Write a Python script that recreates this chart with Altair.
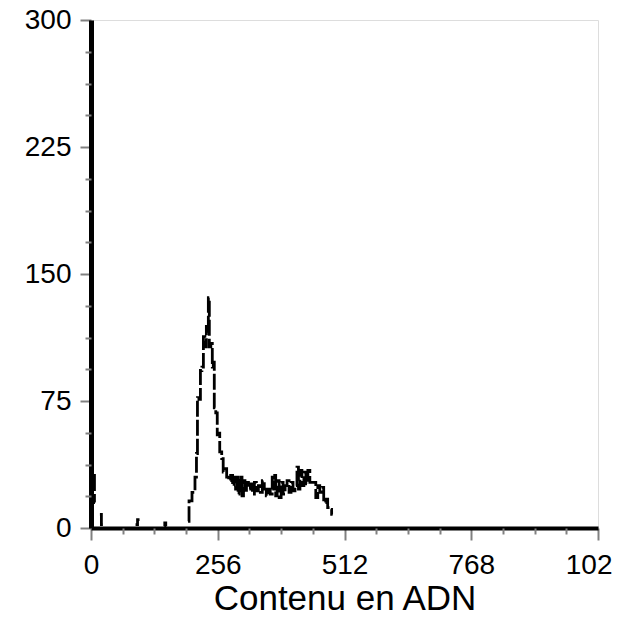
import altair as alt
import pandas as pd

# ---- data (channel, count) ----
low_ch = [6, 8, 18, 24, 90, 98, 148, 150, 152]
low_cnt = [31, 15, 8, 2, 2, 5, 1, 3, 1]
low_seg = ["a", "a", "b", "b", "c", "c", "d", "d", "d"]

main_ch = [196, 200, 208, 212, 214, 216, 220, 222, 226, 228, 232, 234, 236, 238,
           240, 244, 246, 248, 250, 254, 256, 258, 262, 266, 268, 272, 276, 280,
           284, 288, 290, 294, 296, 298, 300, 302, 304, 306, 310, 312, 316, 320,
           324, 328, 332, 336, 340, 344, 348, 352, 356, 360, 364, 368, 370, 372,
           374, 378, 382, 386, 390, 394, 398, 402, 406, 410, 414, 418, 420, 424,
           428, 432, 436, 440, 444, 452, 456, 460, 464, 468, 472, 476, 480, 484, 488]
main_cnt = [4, 16, 21, 30, 44, 77, 76, 93, 95, 113, 107, 119, 115, 136,
            107, 109, 95, 98, 71, 68, 55, 56, 45, 41, 33, 35, 30, 28,
            31, 25, 30, 23, 31, 20, 29, 22, 30, 19, 28, 21, 27, 23,
            26, 20, 27, 22, 25, 21, 28, 23, 19, 23, 20, 30, 23, 31,
            19, 28, 18, 27, 20, 25, 28, 21, 27, 22, 25, 36, 23, 34,
            25, 33, 26, 34, 27, 27, 18, 25, 21, 24, 15, 17, 12, 11, 8]

x_major = [0, 256, 512, 768, 1024]
x_minor = [64, 128, 192, 320, 384, 448, 576, 640, 704, 832, 896, 960]
y_major = [0, 75, 150, 225, 300]
y_minor = [18.75, 37.5, 56.25, 93.75, 112.5, 131.25, 168.75, 187.5, 206.25,
           243.75, 262.5, 281.25]

df = pd.DataFrame({
    "ch": low_ch + main_ch,
    "cnt": low_cnt + main_cnt,
    "seg": low_seg + ["e"] * len(main_ch),
})

FONT = "Liberation Sans"
xs = alt.Scale(domain=[0, 1024], nice=False, zero=False)
ys = alt.Scale(domain=[0, 300], nice=False)

main = alt.Chart(df).mark_line(
    color="black", strokeWidth=2.8, interpolate="step", strokeDash=[16, 3]
).encode(
    x=alt.X("ch:Q", scale=xs, title="Contenu en ADN",
            axis=alt.Axis(values=x_major, orient="bottom", grid=False, format="d",
                          labelExpr="datum.value == 1024 ? '102' : datum.label",
                          labelAlign={"condition": {"test": "datum.value == 1024",
                                                    "value": "right"},
                                      "value": "center"},
                          labelOffset={"condition": {"test": "datum.value == 1024",
                                                     "value": 14},
                                       "value": 0},
                          domainColor="black", domainWidth=4,
                          tickColor="#808080", tickWidth=2, tickSize=12,
                          labelFont=FONT, labelFontSize=28, labelColor="black",
                          labelPadding=11, labelFlush=False, labelOverlap=False,
                          labelBound=False,
                          titleFont=FONT, titleFontSize=35, titleFontWeight="normal",
                          titleColor="black", titlePadding=2, zindex=1)),
    y=alt.Y("cnt:Q", scale=ys, title=None,
            axis=alt.Axis(values=y_major, orient="left", grid=False, format="d",
                          domainColor="black", domainWidth=5,
                          tickColor="#808080", tickWidth=2, tickSize=11,
                          labelFont=FONT, labelFontSize=28, labelColor="black",
                          labelPadding=9, labelFlush=False, labelOverlap=False,
                          zindex=1)),
    detail="seg:N",
)

minor = alt.Chart(df).mark_line(opacity=0).encode(
    x=alt.X("ch:Q", scale=xs, title=None,
            axis=alt.Axis(values=x_minor, orient="bottom", grid=False, domain=False,
                          labels=False, tickColor="#808080", tickWidth=2,
                          tickSize=6, zindex=1)),
    y=alt.Y("cnt:Q", scale=ys, title=None,
            axis=alt.Axis(values=y_minor, orient="left", grid=False, domain=False,
                          labels=False, tickColor="#808080", tickWidth=2,
                          tickSize=6, zindex=1)),
    detail="seg:N",
)

chart = alt.layer(main, minor).resolve_axis(
    x="independent", y="independent"
).properties(
    width=507, height=508,
    autosize=alt.AutoSizeParams(type="none"),
    padding={"left": 91, "top": 20, "right": 21, "bottom": 96},
).configure_view(
    stroke="black", strokeWidth=2.5
).configure(background="white")

chart.save("out.html", embed_options={"renderer": "svg", "actions": False})
